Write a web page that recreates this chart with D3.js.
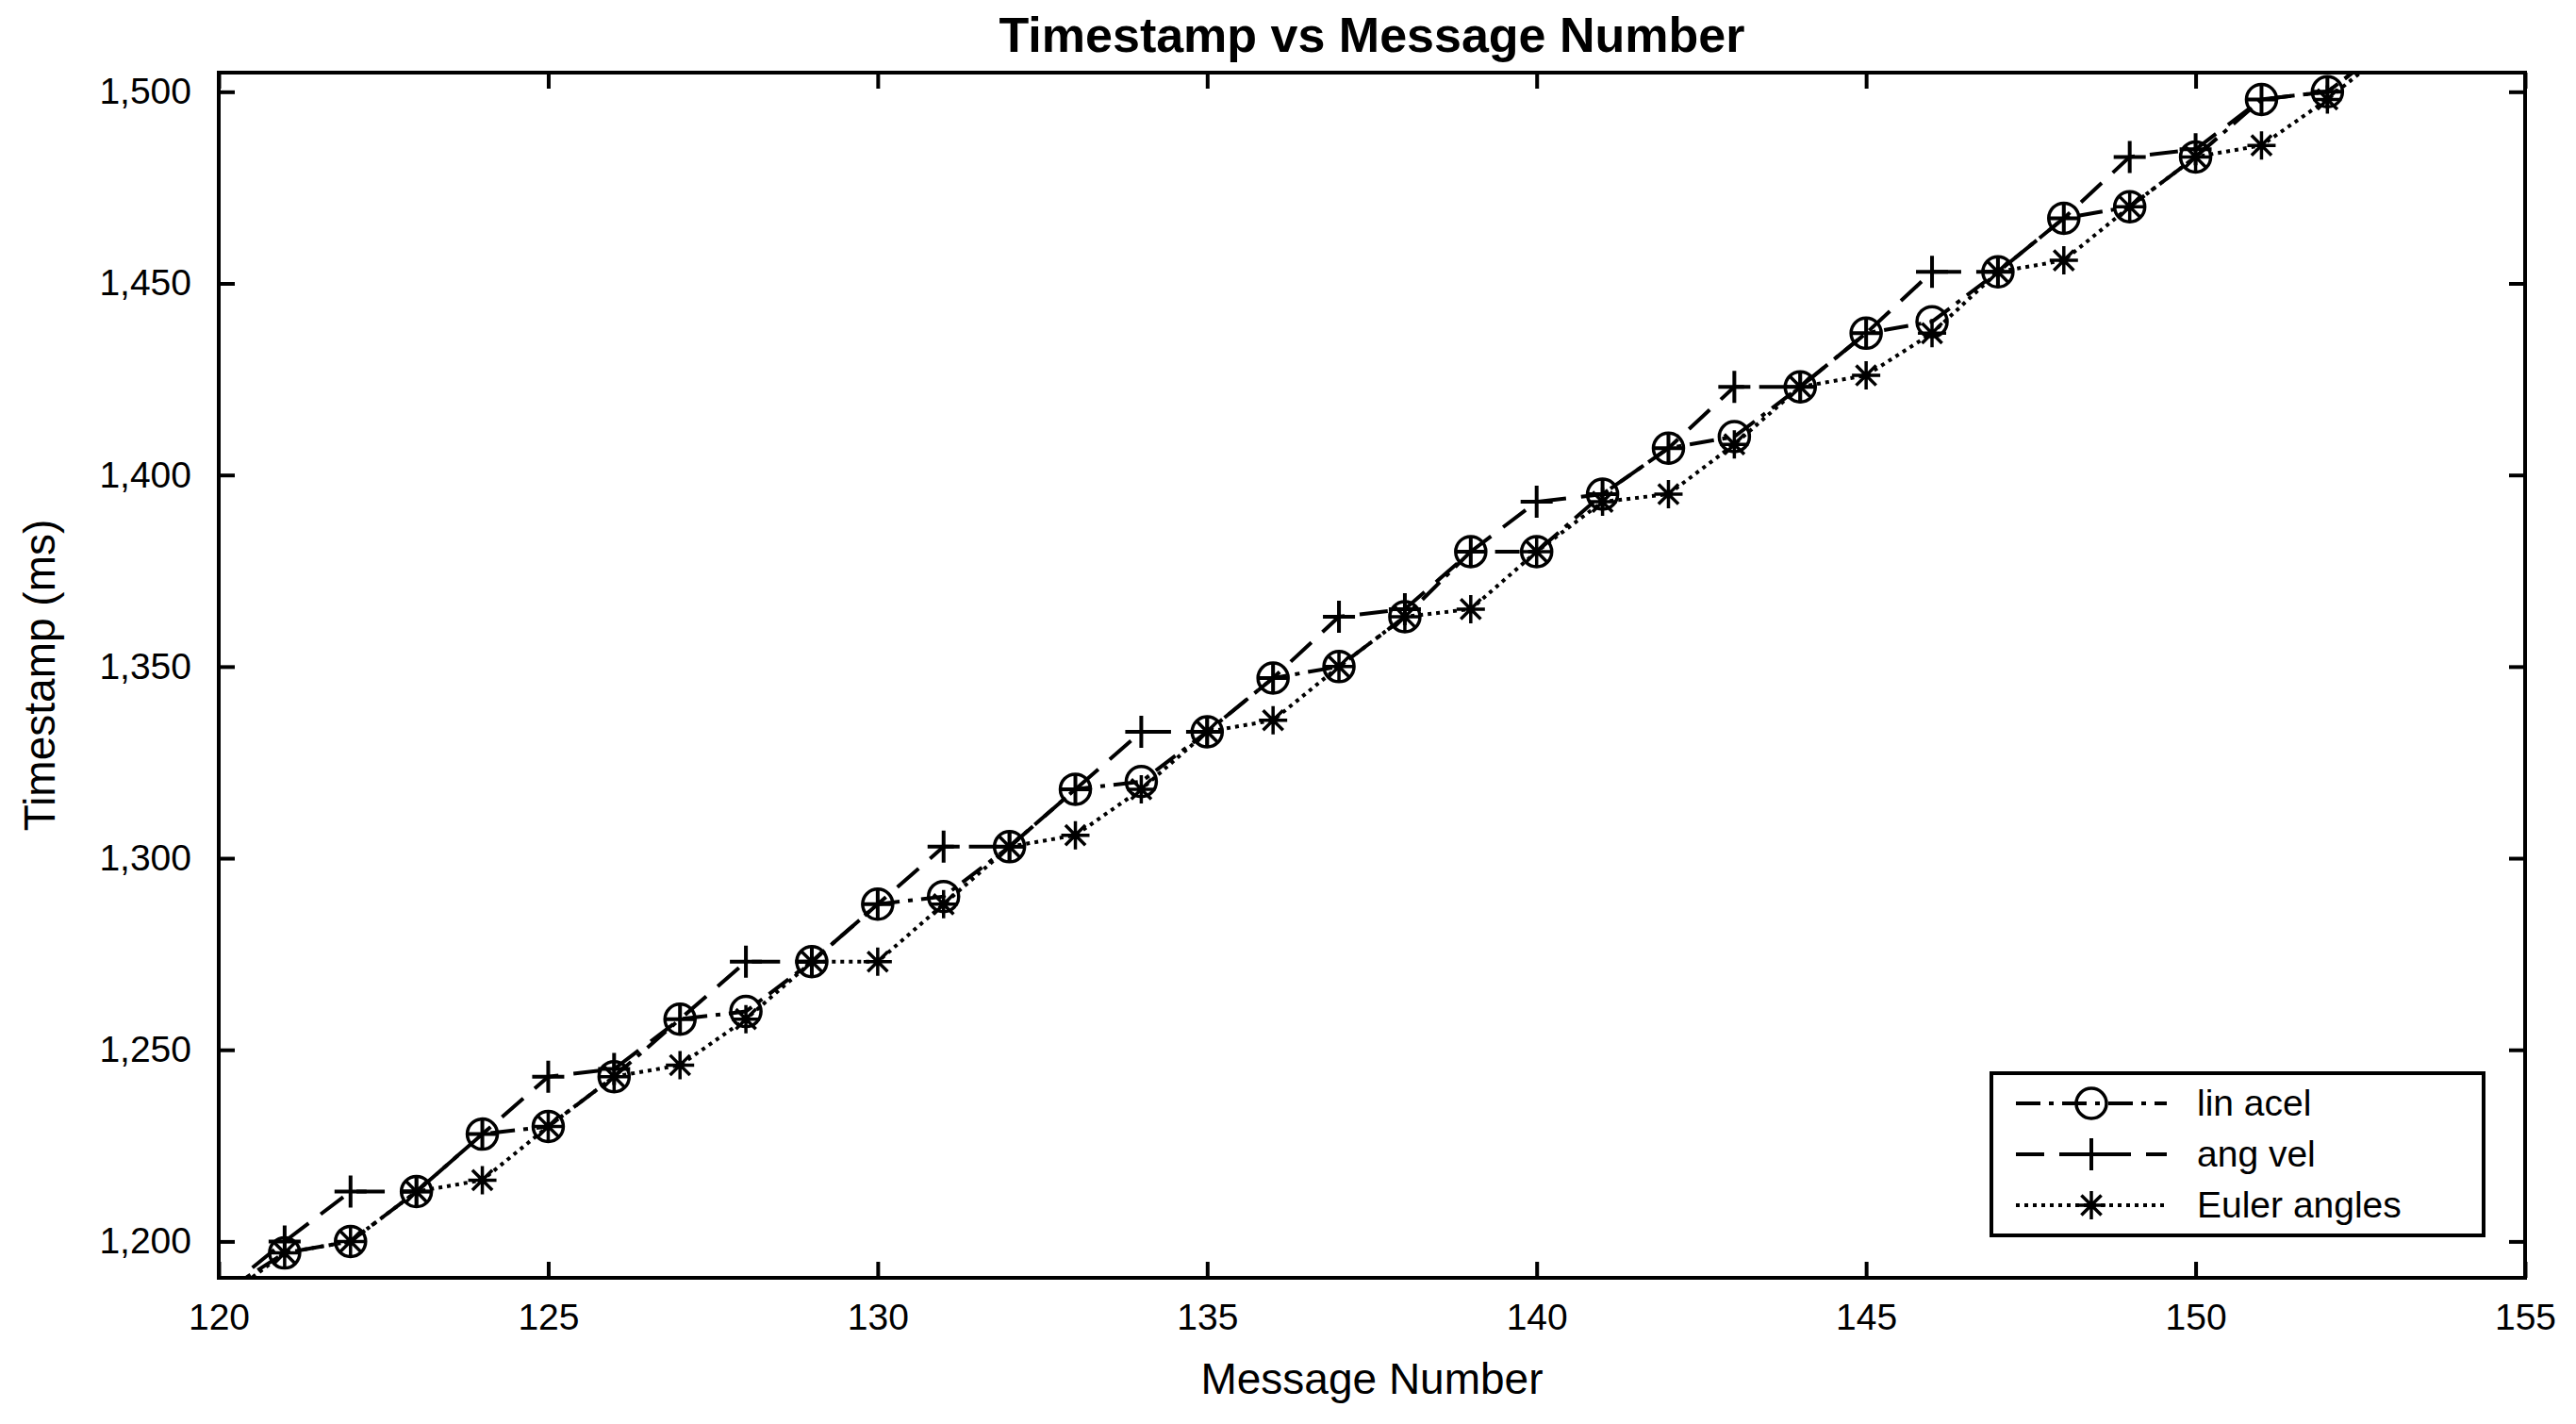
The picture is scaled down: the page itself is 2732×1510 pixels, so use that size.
<!DOCTYPE html>
<html>
<head>
<meta charset="utf-8">
<script src="https://cdn.jsdelivr.net/npm/d3@7"></script>
<style>
  body { margin: 0; background: #fff; }
  text { font-family: "Liberation Sans", Arial, sans-serif; fill: #000; }
</style>
</head>
<body>
<svg id="chart" width="2732" height="1510"></svg>
<script>
// message numbers
const msgNumbers = [120,121,122,123,124,125,126,127,128,129,130,131,132,133,134,135,136,137,138,139,140,141,142,143,144,145,146,147,148,149,150,151,152,153];
// timestamps (ms) per series
const linAcel = [1186,1197,1200,1213,1228,1230,1243,1258,1260,1273,1288,1290,1303,1318,1320,1333,1347,1350,1363,1380,1380,1395,1407,1410,1423,1437,1440,1453,1467,1470,1483,1498,1500,1513];
const angVel  = [1186,1200,1213,1213,1228,1243,1245,1258,1273,1273,1288,1303,1303,1318,1333,1333,1347,1363,1365,1380,1393,1395,1407,1423,1423,1437,1453,1453,1467,1483,1485,1498,1500,1513];
const eulerAngles = [1184,1197,1200,1213,1216,1230,1243,1246,1258,1273,1273,1288,1303,1306,1318,1333,1336,1350,1363,1365,1380,1393,1395,1408,1423,1426,1437,1453,1456,1470,1483,1486,1498,1512];
const xTicks = [120,125,130,135,140,145,150,155];
const yTicks = [1200,1250,1300,1350,1400,1450,1500];
const seriesNames = ['lin acel', 'ang vel', 'Euler angles'];

const svg = d3.select('#chart');
const pLeft = 232, pRight = 2678, pTop = 77, pBottom = 1355;

const x = d3.scaleLinear().domain([120, 155]).range([pLeft, pRight]);
const y = d3.scaleLinear().domain([1190.5, 1505]).range([pBottom, pTop]);

svg.append('defs').append('clipPath').attr('id', 'clip')
  .append('rect').attr('x', pLeft).attr('y', pTop).attr('width', pRight - pLeft).attr('height', pBottom - pTop);

const series = [
  { name: seriesNames[0], values: linAcel, dash: '26,9,5,9', marker: 'circle' },
  { name: seriesNames[1], values: angVel, dash: '30,16', marker: 'plus' },
  { name: seriesNames[2], values: eulerAngles, dash: '4,5', marker: 'star' }
];

function drawMarker(g, type, cx, cy) {
  if (type === 'circle') {
    g.append('circle').attr('cx', cx).attr('cy', cy).attr('r', 16)
      .attr('fill', 'none').attr('stroke', '#000').attr('stroke-width', 3.5);
  } else if (type === 'plus') {
    g.append('path').attr('d', `M${cx-17},${cy}H${cx+17}M${cx},${cy-17}V${cy+17}`)
      .attr('stroke', '#000').attr('stroke-width', 4);
  } else {
    const r = 15, d = r * 0.7071;
    g.append('path').attr('d', `M${cx-r},${cy}H${cx+r}M${cx},${cy-r}V${cy+r}M${cx-d},${cy-d}L${cx+d},${cy+d}M${cx-d},${cy+d}L${cx+d},${cy-d}`)
      .attr('stroke', '#000').attr('stroke-width', 3.5);
  }
}

const plot = svg.append('g').attr('clip-path', 'url(#clip)');
const line = d3.line().x((d, i) => x(msgNumbers[i])).y(d => y(d));
series.forEach(s => {
  plot.append('path').attr('d', line(s.values)).attr('fill', 'none')
    .attr('stroke', '#000').attr('stroke-width', 4).attr('stroke-dasharray', s.dash);
  const mg = plot.append('g');
  s.values.forEach((v, i) => drawMarker(mg, s.marker, x(msgNumbers[i]), y(v)));
});

// axes box with inward ticks
const tl = 17;
const axisB = d3.axisBottom(x).tickValues(xTicks).tickSizeInner(-tl).tickSizeOuter(0).tickPadding(tl + 10);
const axisT = d3.axisTop(x).tickValues(xTicks).tickSizeInner(-tl).tickSizeOuter(0).tickFormat('');
const axisL = d3.axisLeft(y).tickValues(yTicks).tickSizeInner(-tl).tickSizeOuter(0).tickPadding(tl + 12);
const axisR = d3.axisRight(y).tickValues(yTicks).tickSizeInner(-tl).tickSizeOuter(0).tickFormat('');
[[axisB, `translate(0,${pBottom})`], [axisT, `translate(0,${pTop})`], [axisL, `translate(${pLeft},0)`], [axisR, `translate(${pRight},0)`]]
  .forEach(([a, t]) => {
    const g = svg.append('g').attr('transform', t).call(a);
    g.selectAll('.tick line').attr('stroke-width', 4);
    g.selectAll('text').style('font-size', '39px');
    g.select('.domain').remove();
  });
svg.append('rect').attr('x', pLeft).attr('y', pTop).attr('width', pRight - pLeft).attr('height', pBottom - pTop)
  .attr('fill', 'none').attr('stroke', '#000').attr('stroke-width', 4);

svg.append('text').attr('x', (pLeft + pRight) / 2).attr('y', 55).attr('text-anchor', 'middle')
  .style('font-size', '52px').style('font-weight', 'bold').text('Timestamp vs Message Number');
svg.append('text').attr('x', (pLeft + pRight) / 2).attr('y', 1478).attr('text-anchor', 'middle')
  .style('font-size', '46px').text('Message Number');
svg.append('text').attr('transform', `translate(58,${(pTop + pBottom) / 2}) rotate(-90)`).attr('text-anchor', 'middle')
  .style('font-size', '46px').text('Timestamp (ms)');

// legend
const lx = 2112, ly = 1138, lw = 522, lh = 172;
const leg = svg.append('g');
leg.append('rect').attr('x', lx).attr('y', ly).attr('width', lw).attr('height', lh)
  .attr('fill', '#fff').attr('stroke', '#000').attr('stroke-width', 4);
series.forEach((s, i) => {
  const cy = ly + 32 + i * 54;
  leg.append('line').attr('x1', lx + 26).attr('x2', lx + 186).attr('y1', cy).attr('y2', cy)
    .attr('stroke', '#000').attr('stroke-width', 4).attr('stroke-dasharray', s.dash);
  drawMarker(leg, s.marker, lx + 106, cy);
  leg.append('text').attr('x', lx + 218).attr('y', cy + 13).style('font-size', '39px').text(s.name);
});
</script>
</body>
</html>
